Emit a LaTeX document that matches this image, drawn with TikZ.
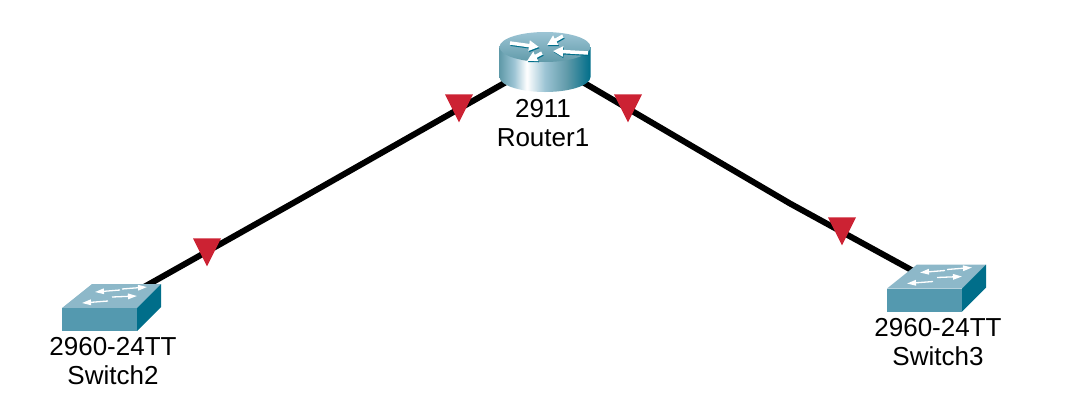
\documentclass[tikz,border=0pt]{standalone}
\usepackage{fontspec}
\setmainfont{Liberation Sans}
\usetikzlibrary{arrows.meta, shapes.geometric}
\definecolor{linkred}{HTML}{CC2233}
\definecolor{swfront}{HTML}{5499AF}
\definecolor{swtop}{HTML}{8DB8C9}
\definecolor{swside}{HTML}{006E8A}
\definecolor{rttop}{HTML}{9CC4D4}
\definecolor{rtlow}{HTML}{609AA9}
\pgfdeclarehorizontalshading{routerside}{100bp}{color(0bp)=(rtlow); color(25bp)=(rtlow); color(33bp)=(rttop); color(40bp)=(white); color(50bp)=(rttop); color(62bp)=(rtlow); color(75bp)=(swside); color(100bp)=(swside)}
\tikzset{
    pics/switchicon/.style={code={
        \fill [swtop] (0,0) -- (30,-24) -- (99,-24) -- (75,0) -- cycle;
        \fill [swfront] (0,0) rectangle (75,23);
        \fill [swside] (75,0) -- (99,-24) -- (99,-1) -- (75,23) -- cycle;
        \draw [swarrow] (58,-18) -- (33,-16);
        \draw [swarrow] (60,-19) -- (85,-21);
        \draw [swarrow] (46,-7) -- (20,-5);
        \draw [swarrow] (50,-11) -- (75,-12);
    }},
    swarrow/.style={white, line width=1.3pt, -{Triangle[width=5.5pt, length=9pt]}},
    routerarrow/.style={line width=3.5pt, -{Triangle[width=10pt, length=10pt]}}
}
\begin{document}
\begin{tikzpicture}[x=1pt, y=-1pt, font=\fontsize{26}{29}\selectfont]
    \tikzstyle{device} = [minimum width=60pt, minimum height=30pt, inner sep=0pt]
    \tikzstyle{line} = [draw, black, line width=6pt]
    \tikzstyle{linkdown} = [isosceles triangle, shape border rotate=270, isosceles triangle apex angle=53, isosceles triangle stretches, fill=linkred, inner sep=0pt, minimum width=28pt, minimum height=28pt]
    \tikzstyle{devlabel} = [align=center, inner sep=0pt]

    \useasboundingbox (0,0) rectangle (1070,405);

    \node [device] (router) at (545,60) {};
    \node [device] (switch2) at (112,305) {};
    \node [device] (switch3) at (937,284) {};
    \coordinate (kinkleft) at (295,202);
    \coordinate (kinkright) at (790,203.5);

    \draw [line] (switch2.center) -- (kinkleft) -- (router.center);
    \draw [line] (router.center) -- (kinkright) -- (switch3.center);

    % router icon
    \shade [shading=routerside] (499.5,47) -- (499.5,77) arc [start angle=180, end angle=0, x radius=45.5, y radius=15] -- (590.5,47) -- cycle;
    \shade [top color=rttop, bottom color=rtlow] (545,47) ellipse [x radius=45.5, y radius=15];
    \begin{scope}[shift={(0.7,1.2)}, swside]
        \draw [routerarrow] (510,43) -- (539,47);
        \draw [routerarrow] (563,36) -- (547,45);
        \draw [routerarrow] (588,53) -- (553,51);
        \draw [routerarrow] (542,53) -- (527,61);
    \end{scope}
    \begin{scope}[white]
        \draw [routerarrow] (510,43) -- (539,47);
        \draw [routerarrow] (563,36) -- (547,45);
        \draw [routerarrow] (588,53) -- (553,51);
        \draw [routerarrow] (542,53) -- (527,61);
    \end{scope}

    % switch icons
    \pic at (62,308) {switchicon};
    \pic at (887,288.5) {switchicon};

    \node [linkdown] (mark1) at (207,247) {};
    \node [linkdown] (mark2) at (459,103) {};
    \node [linkdown] (mark3) at (628,103) {};
    \node [linkdown] (mark4) at (842,226) {};

    \node [devlabel] (routerlabel) at (543,123.5) {2911\\Router1};
    \node [devlabel] (switch2label) at (113,361.5) {2960-24TT\\Switch2};
    \node [devlabel] (switch3label) at (938,342.5) {2960-24TT\\Switch3};
\end{tikzpicture}
\end{document}
